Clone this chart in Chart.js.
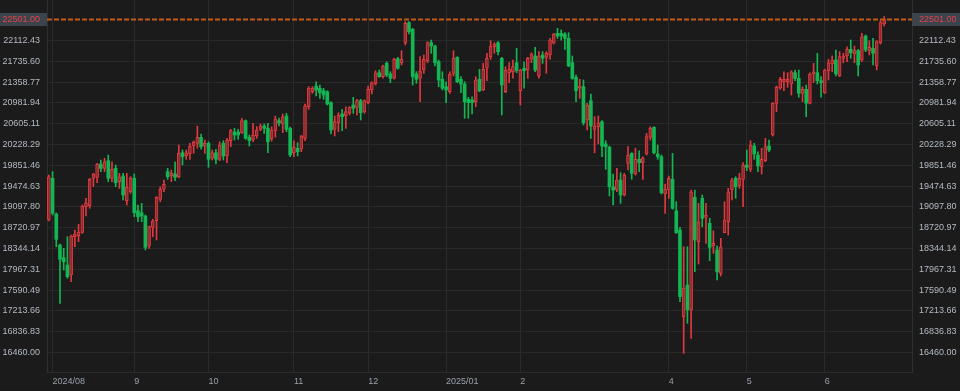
<!DOCTYPE html>
<html><head><meta charset="utf-8">
<script src="https://cdn.jsdelivr.net/npm/chart.js"></script>
<style>html,body{margin:0;padding:0;background:#1b1b1b;overflow:hidden}#wrap{width:960px;height:391px;position:relative}</style>
</head><body><div id="wrap"><canvas id="c"></canvas></div>
<script>
const firstTradingDay = '2024-07-31';
const closedDays = ['2024-09-02','2024-11-28','2024-12-25','2025-01-01','2025-01-09','2025-01-20','2025-02-17','2025-04-18','2025-05-26','2025-06-19'];
const monthTicks = [
  ['2024-08-01','2024/08'],['2024-09-03','9'],['2024-10-01','10'],['2024-11-01','11'],['2024-12-02','12'],
  ['2025-01-02','2025/01'],['2025-02-03','2'],['2025-04-01','4'],['2025-05-01','5'],['2025-06-02','6']
];
const yTicks = [16460.00,16836.83,17213.66,17590.49,17967.31,18344.14,18720.97,19097.80,19474.63,19851.46,20228.29,20605.11,20981.94,21358.77,21735.60,22112.43];
const lastPrice = 22501.00;

const opens = [18860,19615,18969,18407,18177,18045,17864,18557,18576,18637,19101,19119,19615,19633,19874,19796,19934,19615,19796,19554,
19657,19209,19372,19615,19028,18992,18932,18389,18728,18847,19235,19422,19735,19662,19693,19644,20079,20025,20055,20200,
20249,20358,20200,20249,19978,20079,19959,20249,20019,20296,20454,20454,20441,20659,20358,20309,20382,20503,20563,20521,
20327,20472,20659,20599,20744,20521,20079,20159,20141,20340,20912,21184,21287,21246,21202,21184,20985,20503,20622,20780,
20744,20793,20943,20901,21021,20822,20985,21215,21323,21528,21456,21698,21505,21427,21782,21709,22061,22434,22314,21505,
21427,21577,21746,22072,22012,21727,21409,21275,21184,21517,21807,21409,21323,21046,21034,21003,21409,21215,21608,21818,
21999,22072,21789,21184,21528,21546,21709,21202,21608,21577,21771,21831,21468,21849,21807,21849,22061,22242,22242,22229,
22151,21709,21445,21246,21275,20671,21021,20503,20550,20641,20237,20177,19463,19403,19585,19313,19887,20068,19693,19959,
19898,20055,20358,20539,20055,20006,19331,19403,19597,19028,18679,17108,17683,17230,19271,18467,19253,18909,18800,18389,
18317,17894,18630,18829,19403,19615,19476,19597,19856,19778,20200,20037,19825,19934,20200,20400,20974,21246,21365,21365,
21323,21528,21427,21155,21227,20974,21505,21528,21383,21166,21564,21686,21758,21468,21789,21831,21952,21867,21927,21758,
22193,21927,21970,21650,22072,22410];
const highs = [19675,19735,18987,18425,18347,18557,18588,18679,18782,19132,19253,19615,19706,19887,19947,19978,20037,19916,19856,19706,
19706,19706,19644,19693,19132,19162,18950,18751,18873,19282,19463,19585,19796,19766,19916,20218,20128,20128,20249,20296,
20563,20418,20309,20278,20128,20141,20278,20296,20340,20503,20521,20503,20702,20671,20400,20612,20550,20599,20599,20612,
20545,20744,20708,20780,20793,20545,20296,20260,20394,20961,21275,21275,21365,21305,21246,21202,21003,20744,20804,20865,
20912,20912,21083,21046,21046,21034,21287,21365,21564,21577,21668,21727,21546,21789,21807,21927,22452,22452,22332,21546,
21818,21849,22090,22120,22030,21758,21546,21365,21546,21927,21818,21456,21365,21083,21093,21456,21590,21698,21880,22108,
22072,22090,21807,21637,21709,21758,21970,21590,21727,21807,21890,21988,21909,21909,21909,22151,22242,22332,22302,22253,
22253,21831,21486,21409,21396,20974,21142,20731,20744,20659,20296,20200,19693,19796,19717,19706,20188,20079,20159,20115,
20006,20430,20550,20550,20218,20037,19512,19657,20068,19191,18728,18376,18376,19403,19403,19162,19313,19162,18891,18666,
18389,18528,19191,19434,19615,19644,19706,19898,20128,20296,20249,20097,20159,20340,20309,20985,21287,21445,21546,21528,
21564,21577,21577,21275,21305,21528,21698,21880,21456,21590,21771,21831,21939,21909,21880,21999,22120,22012,21952,22242,
22211,22108,22151,22108,22470,22543];
const lows = [18842,18950,18376,17351,17954,17804,17742,18376,18467,18619,18932,19072,19463,19536,19735,19735,19554,19554,19463,19434,
19222,19132,19344,18920,18829,18829,18317,18347,18557,18498,19191,19372,19597,19554,19572,19626,19856,19959,19959,20068,
20159,20141,20068,19815,19947,19874,19934,19947,19898,20188,20309,20322,20430,20322,20200,20278,20340,20478,20430,20079,
20291,20363,20563,20441,20459,20006,20006,20019,20097,20296,20865,21155,21106,21064,21046,20943,20418,20382,20459,20478,
20521,20762,20793,20762,20671,20793,20961,21142,21305,21445,21427,21456,21347,21409,21590,21668,22030,22229,21305,21336,
21003,21517,21709,21880,21650,21275,21215,20985,21155,21468,21347,21166,20702,20702,20780,20912,21184,21202,21383,21771,
21880,21849,20762,21166,21347,21427,21528,20943,21246,21427,21709,21546,21427,21698,21517,21771,22048,22151,22120,21952,
21637,21409,21003,21064,20581,20490,20340,20079,20237,20006,19778,19295,19132,19372,19162,19295,19766,19597,19675,19735,
19597,20037,20309,20055,19959,19331,18981,19253,19054,18619,17380,16445,16989,16717,17923,18063,18739,18438,18123,18257,
17773,17846,18630,18588,19222,19253,19434,19101,19753,19735,19959,19735,19693,19916,20097,20382,20822,21227,21202,21264,
21124,21383,21083,21003,20731,20961,21347,21323,21083,21155,21396,21546,21468,21456,21709,21727,21789,21709,21468,21727,
21909,21849,21668,21577,22048,22374];
const closes = [19644,18981,18510,18148,18105,17833,18570,18606,18643,19119,19173,19597,19693,19874,19796,19916,19615,19778,19536,19644,
19313,19452,19626,18992,18920,18932,18365,18739,18847,19271,19416,19507,19644,19706,19633,20068,20006,20079,20200,20267,
20358,20188,20249,19959,20079,19959,20218,20019,20309,20478,20400,20400,20659,20340,20296,20400,20490,20563,20521,20278,
20490,20689,20617,20731,20503,20037,20177,20097,20382,20930,21246,21246,21215,21166,21124,20961,20490,20641,20762,20731,
20822,20901,20883,21021,20804,21021,21227,21347,21528,21456,21650,21486,21427,21771,21608,21771,22423,22271,21456,21409,
21564,21771,22072,22012,21709,21396,21246,21215,21505,21789,21365,21323,21003,20985,20985,21396,21202,21590,21789,22012,
22048,21909,21305,21577,21590,21637,21564,21577,21564,21789,21867,21577,21831,21789,21880,22120,22229,22193,22193,22151,
21650,21427,21202,21287,20622,20943,20563,20563,20622,20200,20188,19463,19403,19585,19313,19675,20037,19706,19959,19898,
19988,20369,20521,20079,20006,19354,19416,19615,19072,18630,17471,17623,17230,19372,18498,18829,18891,18950,18365,18438,
17923,18376,18860,19372,19572,19463,19615,19856,19815,20218,20055,19838,19959,20188,20128,20974,21264,21409,21409,21409,
21546,21427,21155,21227,20974,21505,21546,21383,21347,21577,21709,21758,21505,21818,21831,21952,21890,21927,21668,22180,
21939,21988,21880,22090,22434,22501];

// trading-day categories
const dates = [];
(function () {
  const p = firstTradingDay.split('-').map(Number);
  const d = new Date(Date.UTC(p[0], p[1] - 1, p[2]));
  while (dates.length < closes.length) {
    const s = d.toISOString().slice(0, 10);
    const dow = d.getUTCDay();
    if (dow !== 0 && dow !== 6 && !closedDays.includes(s)) dates.push(s);
    d.setUTCDate(d.getUTCDate() + 1);
  }
})();
const emptySlots = 7;
const labels = dates.concat(Array.from({length: emptySlots}, () => ''));
const tickText = new Map(monthTicks);
const tickIdx = new Map();
dates.forEach((d, i) => { if (tickText.has(d)) tickIdx.set(i, tickText.get(d)); });

const UP_LINE = '#e0393e', UP_FILL = '#8a2d31', DOWN = '#13b653';
const isUp = i => closes[i] >= opens[i];
const FONT_FAMILY = "'Liberation Sans', Arial, sans-serif";
const FONT = {family: FONT_FAMILY, size: 9};
const Y_MIN = 16107, Y_MAX = 22845;

const priceTag = {
  id: 'priceTag',
  afterDraw(chart) {
    const {ctx, chartArea: a} = chart;
    const y = Math.round(chart.scales.y.getPixelForValue(lastPrice));
    ctx.save();
    ctx.fillStyle = '#c25a16';
    for (let x = Math.round(a.left); x < a.right; x += 7) {
      ctx.fillRect(x, y - 0.5, Math.min(5, a.right - x), 2);
    }
    ctx.fillStyle = '#3b434c';
    ctx.fillRect(0, y - 6, a.left, 13);
    ctx.fillRect(a.right, y - 6, chart.width - a.right, 13);
    ctx.fillStyle = '#e8424a';
    ctx.font = FONT.size + 'px ' + FONT_FAMILY;
    ctx.textBaseline = 'middle';
    const txt = lastPrice.toFixed(2);
    ctx.textAlign = 'right'; ctx.fillText(txt, a.left - 7, y + 0.5);
    ctx.textAlign = 'left'; ctx.fillText(txt, a.right + 7, y + 0.5);
    ctx.restore();
  }
};

const yAxis = (pos, w) => ({
  position: pos, min: Y_MIN, max: Y_MAX,
  afterBuildTicks: s => { s.ticks = yTicks.map(v => ({value: v})); },
  ticks: {color: '#b3bac3', font: FONT, padding: 7, callback: v => Number(v).toFixed(2)},
  grid: {display: pos === 'left', color: '#292929', drawTicks: false},
  border: {color: '#2f2f2f'},
  afterFit: s => { s.width = w; s.paddingTop = 0; s.paddingBottom = 0; }
});

new Chart(document.getElementById('c'), {
  type: 'bar',
  data: {
    labels,
    datasets: [
      {
        label: 'body', data: opens.map((o, i) => [o, closes[i]]),
        backgroundColor: c => isUp(c.dataIndex) ? UP_FILL : DOWN,
        borderColor: c => isUp(c.dataIndex) ? UP_LINE : DOWN,
        borderWidth: c => isUp(c.dataIndex) ? 1 : 0,
        borderSkipped: false, barThickness: 3, minBarLength: 1, grouped: false, order: 0, yAxisID: 'y'
      },
      {
        label: 'wick', data: lows.map((l, i) => [l, highs[i]]),
        backgroundColor: c => isUp(c.dataIndex) ? UP_LINE : DOWN,
        borderWidth: 0, barThickness: 1, grouped: false, order: 1, yAxisID: 'y'
      }
    ]
  },
  options: {
    responsive: true, maintainAspectRatio: false, animation: false,
    layout: {padding: 0},
    plugins: {legend: {display: false}, tooltip: {enabled: false}},
    scales: {
      x: {
        type: 'category', offset: true,
        grid: {offset: false, drawTicks: false, color: c => tickIdx.has(c.index) ? '#2b2b2b' : 'rgba(0,0,0,0)'},
        border: {color: '#2b2b2b'},
        ticks: {autoSkip: false, maxRotation: 0, minRotation: 0, align: 'start', padding: 4, color: '#98a1ab', font: FONT,
          callback: (v, i) => tickIdx.get(i) || ''},
        afterFit: s => { s.height = 19; s.paddingLeft = 0; s.paddingRight = 0; }
      },
      y: yAxis('left', 47),
      y2: yAxis('right', 48)
    }
  },
  plugins: [priceTag]
});
</script>
</body></html>
